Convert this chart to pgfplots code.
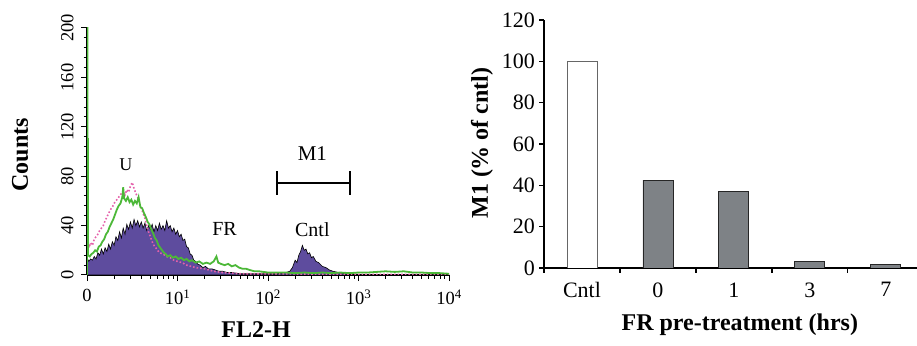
\documentclass[border=0pt]{standalone}
\usepackage{fontspec}
\setmainfont{Liberation Serif}
\usepackage{pgfplots}
\pgfplotsset{compat=1.18}
\definecolor{histpurple}{RGB}{94,76,158}
\definecolor{histgreen}{RGB}{76,184,56}
\definecolor{histpink}{RGB}{228,96,170}
\definecolor{bargray}{RGB}{126,130,134}
\begin{document}
\begin{tikzpicture}
\useasboundingbox (0pt,0pt) rectangle (917pt,345pt);
\begin{axis}[
  at={(87pt,70pt)}, anchor=south west,
  scale only axis, width=362pt, height=247pt,
  xmin=0, xmax=4, ymin=0, ymax=200,
  axis lines=left, axis line style={-, line width=1.2pt},
  tick align=outside,
  xtick={0,1,2,3,4},
  xticklabels={0,10\textsuperscript{1},10\textsuperscript{2},10\textsuperscript{3},10\textsuperscript{4}},
  minor xtick={0.301,0.477,0.602,0.699,0.778,0.845,0.903,0.954,
               1.301,1.477,1.602,1.699,1.778,1.845,1.903,1.954,
               2.301,2.477,2.602,2.699,2.778,2.845,2.903,2.954,
               3.301,3.477,3.602,3.699,3.778,3.845,3.903,3.954},
  ytick={0,40,...,200},
  minor y tick num=4,
  major tick length=6pt, minor tick length=3.5pt,
  every tick/.style={black, line width=1pt},
  tick label style={font=\fontsize{18.5}{18.5}\selectfont},
  xticklabel style={yshift=-5pt},
  yticklabel style={rotate=90, anchor=south, yshift=4pt},
  /pgf/number format/assume math mode=true,
  xlabel={FL2-H}, ylabel={Counts},
  every axis x label/.style={at={(axis description cs:0.467,-0.22)}, anchor=center},
  every axis y label/.style={at={(axis description cs:-0.185,0.486)}, rotate=90, anchor=center},
  label style={font=\bfseries\fontsize{24}{24}\selectfont},
]
\addplot[fill=histpurple, draw=black, line width=0.6pt] coordinates {
(0.00,14)(0.02,11)(0.04,13)(0.06,12)(0.08,15)(0.10,13)(0.12,18)(0.14,16)(0.16,21)(0.18,17)
(0.20,22)(0.22,19)(0.24,25)(0.26,21)(0.28,27)(0.30,24)(0.32,31)(0.34,28)(0.36,35)(0.38,30)
(0.40,38)(0.42,33)(0.44,41)(0.46,37)(0.48,43)(0.50,38)(0.52,45)(0.54,40)(0.56,44)(0.58,39)
(0.60,43)(0.62,38)(0.64,42)(0.66,36)(0.68,40)(0.70,37)(0.72,41)(0.74,35)(0.76,40)(0.78,36)
(0.80,42)(0.82,37)(0.84,40)(0.86,36)(0.88,44)(0.90,38)(0.92,40)(0.94,35)(0.96,38)(0.98,33)
(1.00,36)(1.02,31)(1.04,33)(1.06,28)(1.08,29)(1.10,23)(1.12,22)(1.14,17)(1.16,16)(1.18,12)
(1.20,11)(1.22,9)(1.25,8)(1.28,6)(1.31,7)(1.34,5)(1.38,5)(1.42,4)(1.46,3)(1.50,3)
(1.55,2)(1.60,2)(1.70,1)(1.80,1)(1.90,1)(2.00,1)(2.10,1)(2.20,2)(2.24,3)(2.27,6)
(2.30,12)(2.32,10)(2.34,16)(2.36,19)(2.38,24)(2.40,20)(2.42,21)(2.44,17)(2.46,18)(2.48,14)
(2.50,15)(2.53,11)(2.56,10)(2.60,7)(2.64,6)(2.68,4)(2.72,3)(2.78,2)(2.85,1)(3.00,0.5)(4.00,0.3)
} \closedcycle;
\addplot[histpink, dotted, line width=1.6pt] coordinates {
(0,25)(0.01,30)(0.02,22)(0.04,26)(0.06,24)(0.08,29)(0.10,31)(0.12,33)(0.14,36)(0.16,38)
(0.18,40)(0.20,44)(0.22,47)(0.24,50)(0.26,53)(0.28,55)(0.30,58)(0.32,60)(0.34,62)(0.36,64)
(0.38,66)(0.40,68)(0.42,65)(0.44,69)(0.46,67)(0.48,72)(0.50,75)(0.52,70)(0.54,66)(0.56,63)
(0.58,58)(0.60,54)(0.62,50)(0.64,46)(0.66,40)(0.68,35)(0.70,31)(0.72,27)(0.74,24)(0.76,22)
(0.78,20)(0.80,18)(0.84,17)(0.88,15)(0.92,14)(0.96,12)(1.00,11)(1.05,10)(1.10,8)(1.15,7)
(1.20,6)(1.30,5)(1.40,3)(1.50,2)(1.70,1)(2.00,1)(3.00,0.5)(4.00,0.5)
};
\addplot[histgreen, line width=1.8pt] coordinates {
(0,0)(0,200)(0.006,200)(0.006,110)(0.012,110)(0.012,16)(0.03,15)(0.05,17)(0.07,18)(0.09,20)
(0.11,19)(0.13,23)(0.15,24)(0.17,27)(0.19,29)(0.21,33)(0.23,35)(0.25,39)(0.27,42)(0.29,45)
(0.31,49)(0.33,53)(0.35,56)(0.37,58)(0.39,63)(0.40,71)(0.41,62)(0.43,60)(0.45,63)(0.47,59)
(0.49,61)(0.51,57)(0.53,60)(0.55,58)(0.57,63)(0.59,55)(0.61,54)(0.63,50)(0.65,47)(0.67,43)
(0.69,41)(0.71,37)(0.73,34)(0.75,30)(0.77,28)(0.79,24)(0.81,22)(0.83,20)(0.85,18)(0.87,17)
(0.89,15)(0.92,16)(0.95,14)(0.98,15)(1.01,13)(1.04,14)(1.07,12)(1.10,13)(1.13,11)(1.16,12)
(1.20,10)(1.24,11)(1.28,9)(1.32,10)(1.36,9)(1.40,11)(1.43,15)(1.45,10)(1.48,9)(1.52,8)
(1.56,9)(1.60,7)(1.64,8)(1.68,6)(1.72,5)(1.76,5)(1.80,4)(1.85,3)(1.90,3)(2.00,2)
(2.10,2)(2.20,2)(2.30,1.5)(2.40,2)(2.50,1.5)(2.60,2)(2.70,1.5)(2.80,2)(2.90,1.5)(3.00,2)
(3.10,2)(3.20,2.5)(3.30,3)(3.40,2.5)(3.50,3)(3.60,2)(3.70,2)(3.80,1.5)(3.90,1.5)(4.00,1)
};
\node[font=\fontsize{18}{18}\selectfont] at (axis cs:0.43,89) {U};
\node[font=\fontsize{20}{20}\selectfont] at (axis cs:1.52,37) {FR};
\node[font=\fontsize{20}{20}\selectfont] at (axis cs:2.49,37) {Cntl};
\node[font=\fontsize{21}{21}\selectfont] at (axis cs:2.49,98) {M1};
\draw[line width=1.8pt] (axis cs:2.1,74.5) -- (axis cs:2.906,74.5);
\draw[line width=1.8pt] (axis cs:2.1,65) -- (axis cs:2.1,84);
\draw[line width=1.8pt] (axis cs:2.906,65) -- (axis cs:2.906,84);
\end{axis}
\begin{axis}[
  at={(544pt,77pt)}, anchor=south west,
  scale only axis, width=373pt, height=248pt,
  xmin=-0.5, xmax=4.41, ymin=0, ymax=120,
  axis lines=left, axis line style={-, line width=1.5pt},
  ybar, bar width=30pt,
  xtick={-0.5,0.5,1.5,2.5,3.5}, xticklabels={},
  extra x ticks={0,1,2,3,4}, extra x tick labels={Cntl,0,1,3,7},
  extra x tick style={major tick length=0pt, xticklabel style={yshift=-11pt}},
  ytick={0,20,...,120},
  tick align=outside, major tick length=5pt,
  every tick/.style={black, line width=1.2pt},
  tick label style={font=\fontsize{22}{22}\selectfont},
  yticklabel style={inner sep=4pt},
  /pgf/number format/assume math mode=true,
  xlabel={FR pre-treatment (hrs)}, ylabel={M1 (\% of cntl)},
  every axis x label/.style={at={(axis description cs:0.525,-0.228)}, anchor=center},
  every axis y label/.style={at={(axis description cs:-0.166,0.504)}, rotate=90, anchor=center},
  label style={font=\bfseries\fontsize{24}{24}\selectfont},
]
\addplot[fill=white, draw=black!60, line width=0.9pt, bar shift=0pt] coordinates {(0,100)};
\addplot[fill=bargray, draw=black!85, line width=0.9pt, bar shift=0pt] coordinates {(1,42.5)(2,37)(3,3)(4,1.5)};
\end{axis}
\end{tikzpicture}
\end{document}
